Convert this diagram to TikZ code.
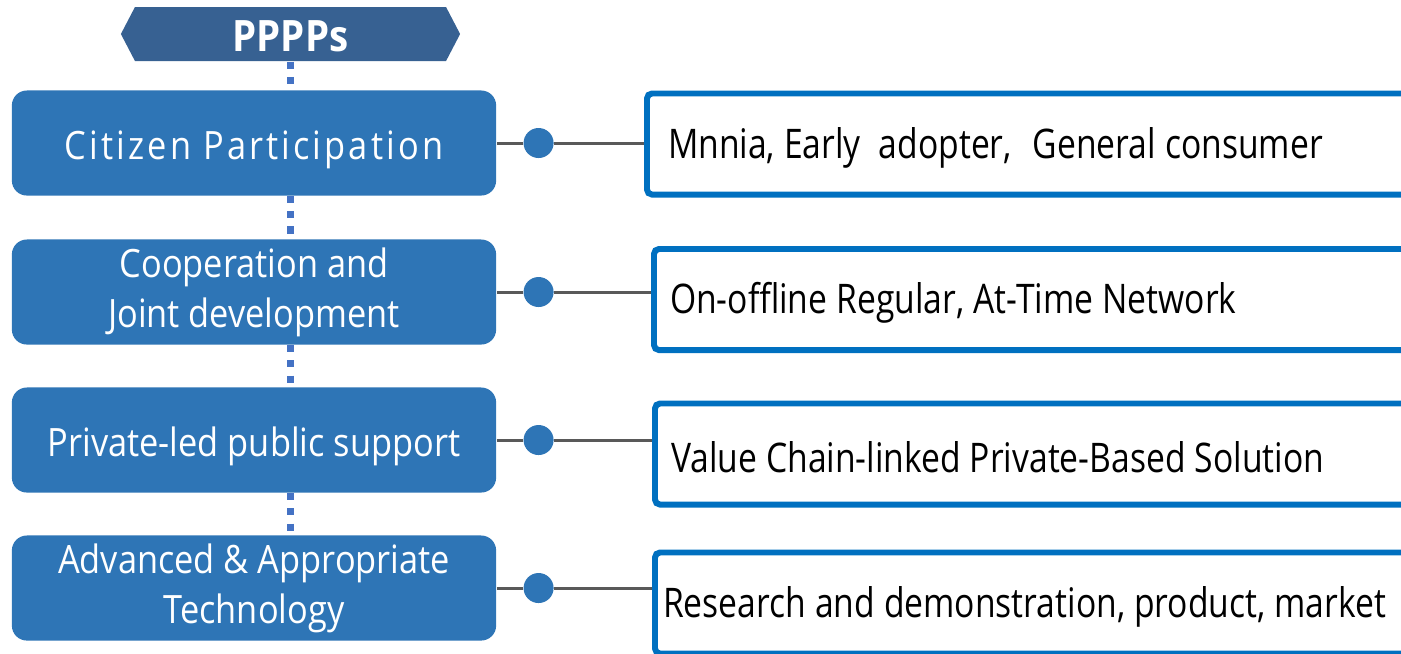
\documentclass[tikz,border=0pt]{standalone}
\usepackage{fontspec}
\setmainfont{Open Sans}[FakeStretch=0.825]
\newfontfamily\stagefont{Open Sans}[FakeStretch=0.88]
\newfontfamily\citfont{Open Sans}[FakeStretch=0.88,LetterSpace=8]
\newfontfamily\headfont{Open Sans}[FakeStretch=0.89]
\usetikzlibrary{positioning,shapes.symbols}
\definecolor{stageblue}{RGB}{46,117,182}
\definecolor{headblue}{RGB}{55,97,146}
\definecolor{rimblue}{RGB}{0,112,192}
\definecolor{spineblue}{RGB}{68,114,196}
\definecolor{linkgray}{RGB}{89,89,89}

\begin{document}
\begin{tikzpicture}[x=0.01cm,y=-0.01cm,
    stage/.style={fill=stageblue, rounded corners=0.15cm, minimum width=4.84cm,
        minimum height=1.05cm, inner sep=0pt, text=white, align=center,
        execute at begin node={\rule{0pt}{0.42cm}},
        font=\stagefont\fontsize{11.1}{14.2}\selectfont},
    role/.style={draw=rimblue, line width=1.7pt, rounded corners=0.05cm, anchor=west,
        minimum height=1.01cm, text width=8.4cm, inner xsep=0.16cm, inner ysep=0pt,
        align=left, execute at begin node={\spaceskip=0.09cm\relax\rule{0pt}{0.38cm}},
        font=\fontsize{11.6}{14}\selectfont},
    knob/.style={circle, fill=stageblue, minimum size=0.3cm, inner sep=0pt},
    link/.style={draw=linkgray, line width=0.85pt},
    spine/.style={draw=spineblue, line width=2pt, dash pattern=on 2pt off 2.3pt}]
    \clip (0,0) rectangle (1401,653);
    % header
    \node[signal, signal to=west and east, signal pointer angle=125, fill=headblue,
        minimum width=3.39cm, minimum height=0.54cm, inner sep=0pt, text=white,
        font=\headfont\fontsize{12.3}{14}\bfseries\selectfont] (head) at (290.5,34) {\rule{0pt}{0.36cm}PPPPs};
    % left column
    \node[stage] (cit) at (254,143) {\citfont Citizen Participation};
    \node[stage] (coop) at (254,292) {Cooperation and\\Joint development};
    \node[stage] (priv) at (254,440) {Private-led public support};
    \node[stage] (adv) at (254,588) {Advanced \& Appropriate\\Technology};
    % dotted spine
    \draw[spine] (head.south) -- (head.south |- cit.north);
    \draw[spine] (head.south |- cit.south) -- (head.south |- coop.north);
    \draw[spine] (head.south |- coop.south) -- (head.south |- priv.north);
    \draw[spine] (head.south |- priv.south) -- (head.south |- adv.north);
    % right column
    \node[role] (r1) at (644,144) {\hspace{0.05cm}Mnnia, Early\hspace{0.18cm}adopter,\hspace{0.21cm}General consumer};
    \node[role] (r2) at (651,299.5) {On-offline Regular, At-Time Network};
    \node[role] (r3) at (652,454) {Value Chain-linked Private-Based Solution};
    \node[role] (r4) at (652,603) {\hspace{-0.08cm}Research and demonstration, product, market};
    % knobs
    \node[knob, right=0.26cm of cit] (k1) {};
    \node[knob, right=0.26cm of coop] (k2) {};
    \node[knob, right=0.26cm of priv] (k3) {};
    \node[knob, right=0.26cm of adv] (k4) {};
    \draw[link] (cit.east) -- (k1) -- (k1 -| r1.west);
    \draw[link] (coop.east) -- (k2) -- (k2 -| r2.west);
    \draw[link] (priv.east) -- (k3) -- (k3 -| r3.west);
    \draw[link] (adv.east) -- (k4) -- (k4 -| r4.west);
\end{tikzpicture}
\end{document}
